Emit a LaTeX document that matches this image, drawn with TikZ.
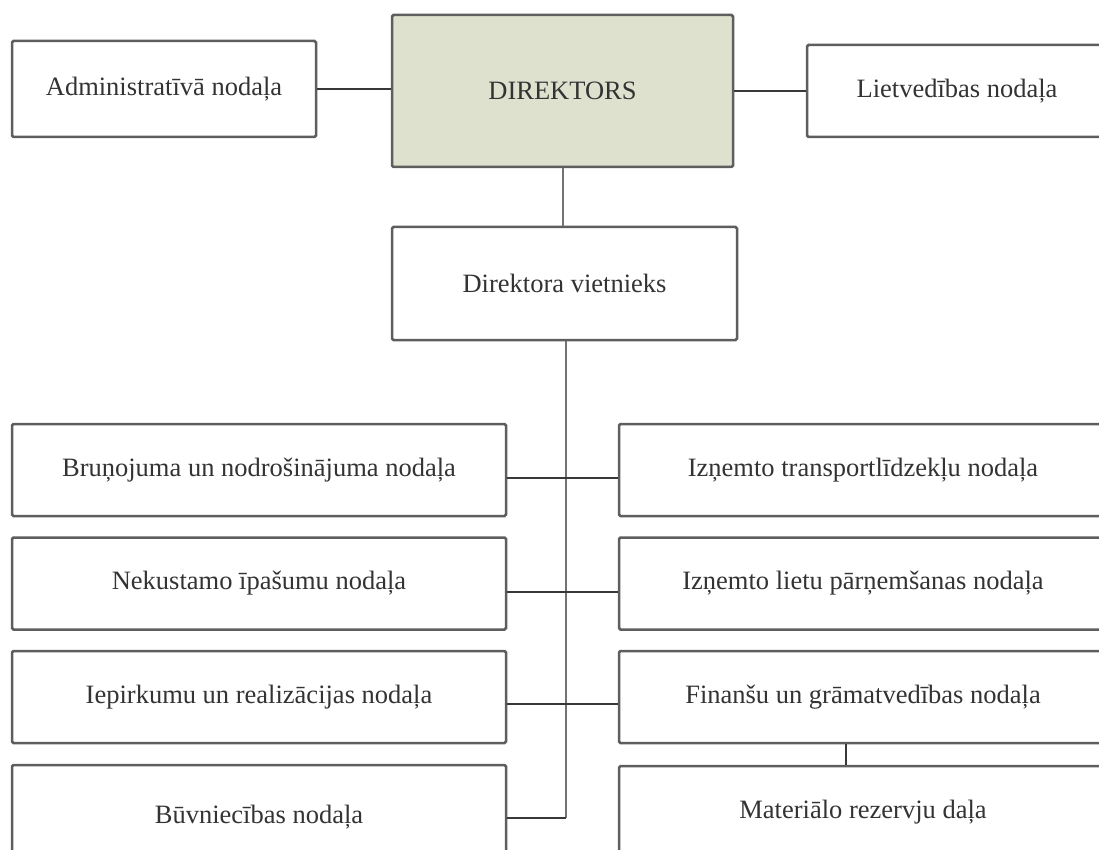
\documentclass[tikz,border=0pt]{standalone}
\usepackage{fontspec}
\setmainfont{Liberation Serif}
\definecolor{dirfill}{HTML}{DFE1CF}
\definecolor{boxline}{HTML}{5E5E5E}
\definecolor{linkline}{HTML}{383838}
\tikzset{
  unit/.style={draw=boxline, line width=2.5pt, rounded corners=1.5pt, fill=white,
    text=black!80, inner sep=0pt, minimum height=92pt,
    font=\fontsize{26.5}{30}\selectfont},
  link/.style={draw=linkline, line width=2pt},
}

\begin{document}
\begin{tikzpicture}[x=1pt,y=-1pt]
            \useasboundingbox (0,0) rectangle (1099,850);
            \clip (0,0) rectangle (1099,850);
            % top row
            \node[unit, minimum width=304pt, minimum height=96pt] (adm) at (164,89) {Administratīvā nodaļa};
            \node[unit, fill=dirfill, minimum width=341pt, minimum height=152pt] (dir) at (562.5,91) {DIREKTORS};
            \node[unit, minimum width=300pt] (liet) at (957,91) {Lietvedības nodaļa};
            \node[unit, minimum width=345pt, minimum height=113pt] (viet) at (564.5,283.5) {Direktora vietnieks};
            % departments
            \pgfmathsetmacro{\lx}{259};
            \pgfmathsetmacro{\rx}{863};
            \node[unit, minimum width=494pt] (bru) at (\lx,470) {Bruņojuma un nodrošinājuma nodaļa};
            \node[unit, minimum width=494pt] (nek) at (\lx,583.5) {Nekustamo īpašumu nodaļa};
            \node[unit, minimum width=494pt] (iep) at (\lx,697) {Iepirkumu un realizācijas nodaļa};
            \node[unit, minimum width=494pt, minimum height=104pt] (buv) at (\lx,817) {Būvniecības nodaļa};
            \node[unit, minimum width=488pt] (tra) at (\rx,470) {Izņemto transportlīdzekļu nodaļa};
            \node[unit, minimum width=488pt] (lie) at (\rx,583.5) {Izņemto lietu pārņemšanas nodaļa};
            \node[unit, minimum width=488pt] (fin) at (\rx,697) {Finanšu un grāmatvedības nodaļa};
            \node[unit, minimum width=488pt] (mat) at (\rx,812) {Materiālo rezervju daļa};
            % lines
            \draw[link] (adm.east) -- (adm.east -| dir.west);
            \draw[link] (dir.east |- liet.west) -- (liet.west);
            \draw[link, draw=gray!90!black] (dir.south) -- (dir.south |- viet.north);
            \coordinate (trunk) at (566,818);
            \draw[link, draw=gray!90!black, line width=2.3pt] (viet.south -| trunk) -- (trunk);
            \draw[link] ([yshift=-8pt]bru.east) -- ([yshift=-8pt]bru.east -| tra.west);
            \draw[link] ([yshift=-8pt]nek.east) -- ([yshift=-8pt]nek.east -| lie.west);
            \draw[link] ([yshift=-7pt]iep.east) -- ([yshift=-7pt]iep.east -| fin.west);
            \draw[link] (buv.east |- trunk) -- (trunk);
            \draw[link] ([xshift=-17pt]fin.south) -- ([xshift=-17pt]fin.south |- mat.north);
        \end{tikzpicture}
\end{document}
